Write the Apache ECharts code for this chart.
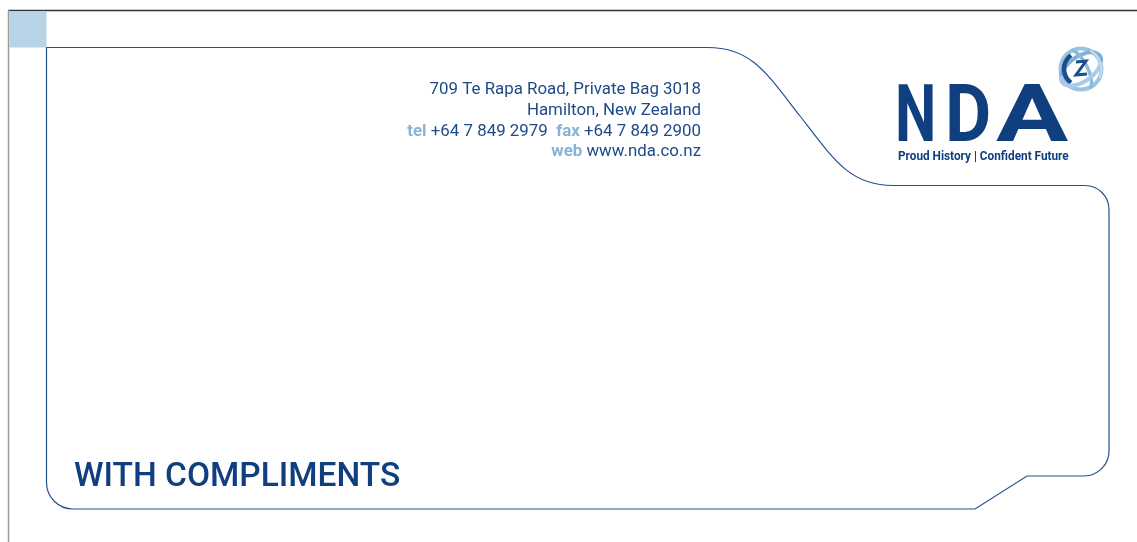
<!DOCTYPE html>
<html><head><meta charset="utf-8">
<script src="https://cdn.jsdelivr.net/npm/echarts@6/dist/echarts.min.js"></script>
<style>html,body{margin:0;padding:0;background:#fff;overflow:hidden}#c{width:1137px;height:542px}</style>
</head><body><div id="c"></div>
<script>
// ---- content ----
const addressLines = ['709 Te Rapa Road, Private Bag 3018', 'Hamilton, New Zealand'];
const contactLabels = ['tel', 'fax', 'web'];
const contactValues = ['+64 7 849 2979', '+64 7 849 2900', 'www.nda.co.nz'];
const brandLetters = ['N', 'D', 'A'];
const taglineParts = ['Proud History', 'Confident Future'];
const titleText = ['WITH COMPLIMENTS'];

const DARK = '#0f3f7e';
const LINE = '#24528f';
const LIGHT = '#86b4d6';
const TXT = '#1e4a88';

const cx = 1081, cy = 69;
const outlineD = 'M 46.5 47.5 L 708 47.5 C 752 47.5 767 74 800 116 C 834 160 850 185.5 893 185.5 ' +
  'L 1085 185.5 A 24 24 0 0 1 1109 209.5 L 1109 451 A 25 25 0 0 1 1084 476 L 1027 476 L 975 509 ' +
  'L 73 509 A 26.5 26.5 0 0 1 46.5 482.5 Z';
const ringBackD = 'M ' + (cx - 20) + ' ' + (cy + 7) + ' A 22 12 -35 0 1 ' + (cx + 20) + ' ' + (cy - 7);
const ringFrontD = 'M ' + (cx - 20) + ' ' + (cy + 7) + ' A 22 12 -35 0 0 ' + (cx + 20) + ' ' + (cy - 7);
const ring2D = 'M ' + (cx - 9) + ' ' + (cy - 19) + ' A 22 9 62 0 1 ' + (cx + 9) + ' ' + (cy + 19);

echarts.graphic.registerShape('ndaOutline', echarts.graphic.extendPath(outlineD, {}));
echarts.graphic.registerShape('ringBack', echarts.graphic.extendPath(ringBackD, {}));
echarts.graphic.registerShape('ringFront', echarts.graphic.extendPath(ringFrontD, {}));
echarts.graphic.registerShape('ring2', echarts.graphic.extendPath(ring2D, {}));

const chart = echarts.init(document.getElementById('c'), null, {renderer: 'canvas'});

const richLabel = {b: {fontWeight: 'bold', fill: LIGHT, color: LIGHT, fontSize: 16, fontFamily: 'Roboto'}};
const addrStyle = (text, y) => ({
  type: 'text', x: 701, y: y, scaleX: 1.055,
  style: {text: text, align: 'right', verticalAlign: 'middle', fontSize: 16, fontFamily: 'Roboto', fill: TXT, rich: richLabel}
});
const letter = (ch, x, sx) => ({
  type: 'text', x: x, y: 121, scaleX: sx,
  style: {text: ch, align: 'left', verticalAlign: 'middle', fontSize: 79, fontWeight: 'bold', fontFamily: 'Roboto', fill: DARK}
});

const graphic = [
  // page frame
  {type: 'line', shape: {x1: 8, y1: 10.5, x2: 1137, y2: 10.5}, style: {stroke: '#333', lineWidth: 1.5}},
  {type: 'line', shape: {x1: 8.5, y1: 10, x2: 8.5, y2: 542}, style: {stroke: '#9a9a9a', lineWidth: 1.5}},
  {type: 'rect', shape: {x: 9.3, y: 11.3, width: 37.2, height: 36.2}, style: {fill: '#b8d3e6'}},
  // outline
  {type: 'ndaOutline', style: {fill: 'none', stroke: LINE, lineWidth: 1.2}},
  // address
  addrStyle(addressLines[0], 90),
  addrStyle(addressLines[1], 111),
  addrStyle('{b|' + contactLabels[0] + '} ' + contactValues[0] + '  {b|' + contactLabels[1] + '} ' + contactValues[1], 131.5),
  addrStyle('{b|' + contactLabels[2] + '} ' + contactValues[2], 152),
  // title
  {type: 'text', x: 74, y: 478, style: {text: titleText[0], align: 'left', verticalAlign: 'middle', fontSize: 33.5, fontWeight: 500, fontFamily: 'Roboto', fill: DARK}},
  // brand letters
  letter(brandLetters[0], 895, 0.74),
  letter(brandLetters[1], 945, 0.9),
  letter(brandLetters[2], 996, 1.36),
  // tagline
  {type: 'text', x: 898, y: 156.5, scaleX: 0.944, style: {text: taglineParts[0] + ' | ' + taglineParts[1], align: 'left', verticalAlign: 'middle', fontSize: 12.5, fontWeight: 'bold', fontFamily: 'Roboto', fill: DARK}},
  // globe
  {type: 'circle', shape: {cx: cx, cy: cy, r: 20.5}, style: {fill: 'none', stroke: '#9cc3e0', lineWidth: 4}},
  {type: 'ringBack', style: {fill: 'none', stroke: '#7fb0d6', lineWidth: 4}},
  {type: 'arc', shape: {cx: cx, cy: cy, r: 17, startAngle: Math.PI * 0.7, endAngle: Math.PI * 1.3}, style: {fill: 'none', stroke: '#1c4e8f', lineWidth: 4.5}},
  {type: 'ring2', style: {fill: 'none', stroke: '#8ebbdc', lineWidth: 3.5}},
  {type: 'polyline', shape: {points: [[cx - 5, cy - 7], [cx + 5, cy - 8], [cx - 5, cy + 6], [cx + 6, cy + 5]]}, style: {fill: 'none', stroke: '#1c4e8f', lineWidth: 3}},
  {type: 'ringFront', style: {fill: 'none', stroke: '#a9cbe5', lineWidth: 4}},
  {type: 'arc', shape: {cx: cx, cy: cy, r: 20.5, startAngle: -Math.PI * 0.35, endAngle: Math.PI * 0.15}, style: {fill: 'none', stroke: '#c8ddef', lineWidth: 2}}
];

chart.setOption({backgroundColor: '#fff', animation: false, graphic: graphic});
</script></body></html>
